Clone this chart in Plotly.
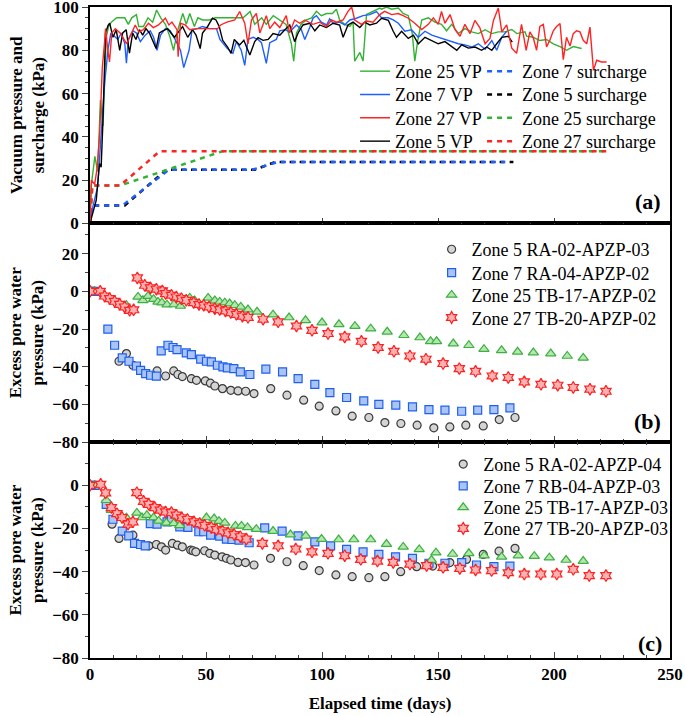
import plotly.graph_objects as go
from plotly.subplots import make_subplots

# ---- (a) vacuum pressure (kPa) vs elapsed time (days)
vp25_day = [0, 0.6, 2.1, 3.3, 4.5, 5.6, 7, 8, 9.2, 11.5, 13, 15, 16.5, 18, 20, 21, 23, 25, 27, 28.7,
            30.5, 32.5, 34.5, 36, 38, 40, 41.5, 43, 45, 46.5, 48.5, 51.5, 54, 58, 62, 64.5, 66, 69, 71, 74,
            76, 79, 82, 84.5, 86.8, 87.8, 89, 91, 93.3, 95.5, 97.6, 99.7, 102, 104.5, 106.2, 107.6, 109.8, 112, 113.4, 114.1,
            116.3, 117.7, 119.2, 122, 124.9, 125.7, 127.8, 130, 132.9, 135, 137.2, 138.9, 140, 141.2, 143, 145.8, 148.7, 151.5, 153.7, 155.9,
            158.8, 161.6, 164.5, 167.4, 170.3, 173.2, 176, 178.9, 181.8, 184, 187.5, 188.2, 191, 193.9, 196.8, 199.7, 202.6, 205.4, 208.3, 211.9]
vp25 = [0, 18, 31, 24, 57, 45, 86, 91, 93, 95, 95, 95, 92, 95, 96.5, 91, 91, 95, 93, 98.6,
        95, 92, 86, 80, 90, 97, 92, 97, 91, 95, 94, 94, 95, 95, 95, 95, 95, 97.9, 92, 95,
        92, 96, 94, 92, 83, 75, 88, 92, 94, 95, 98, 96, 97, 97, 99, 94, 92, 91, 93, 75,
        79, 75, 96.5, 98, 99.5, 99, 100, 99, 99.5, 97, 96, 87.7, 75, 84, 94, 95, 93, 92, 89, 92,
        87.7, 90, 88.5, 87.7, 89.5, 87.7, 88.5, 88.5, 89.6, 87.7, 88.5, 86.5, 86, 84.5, 85, 83, 81.7, 80, 81.7, 80.8]

vp7_day = [0, 1.3, 3.3, 5, 6.3, 7, 7.7, 9, 10.5, 12, 13.5, 15, 15.7, 16.5, 18.5, 20, 21.7, 23.8, 26, 27.4,
           28.9, 30.4, 32.5, 34.6, 36.7, 39, 40.4, 42.7, 44, 46.3, 48.5, 51.5, 54.5, 56, 59, 61.6, 63.1, 65.2, 66.7, 68.1,
           70.3, 72.4, 73.9, 76, 77.5, 80.3, 81.8, 84, 86.1, 89, 91.1, 92.6, 94.7, 96.1, 97.6, 99.7, 102, 103.3, 104.8, 107.6,
           109.8, 112, 114.8, 117.7, 120.6, 123.5, 125.7, 128.6, 130.7, 132.9, 135.7, 138.6, 141.5, 144.4, 147.3, 150.1, 153, 155.9, 158.8, 161.6,
           164.5, 167.4, 170.3, 173.2, 175.3, 177.5, 179.6]
vp7 = [0, 8, 17, 46, 65, 72, 80, 88, 86.5, 85, 88, 83, 74, 85, 89, 88, 84, 87, 89, 86,
       80, 87, 90, 89, 85, 80, 72, 80, 89.5, 90, 91, 90, 90, 85, 81, 78.6, 84, 80, 73, 85,
       86, 85, 83.5, 74, 83.5, 85, 89, 89.5, 88.5, 91.7, 89.5, 85, 90.5, 94.8, 96, 93, 91.7, 94.5, 92.5, 93,
       91.7, 94, 94.8, 96, 96.5, 97.9, 95, 95, 94, 92.5, 88.8, 89.5, 86, 88.8, 87, 86, 85, 83.8, 83, 82.5,
       81.5, 83, 80.5, 84.5, 80, 86, 88.8]

vp27_day = [0, 0.6, 2, 3, 4.1, 5.3, 6.3, 6.7, 7.7, 8.4, 9.4, 10.9, 13, 15.8, 17.3, 19.5, 21, 23, 25.2, 27.3,
            29.5, 32.5, 34, 35.3, 37.5, 38, 39, 41, 43, 46, 50, 55, 56.3, 59, 62.4, 64.5, 66.7, 68.1, 69.6, 71.7,
            73.2, 74.6, 76, 77.5, 79.6, 81.8, 84.6, 86, 88.2, 90.4, 92.6, 96.1, 99, 101.9, 104.1, 106.2, 109.1, 111.2, 112.8, 114.1,
            117, 119.2, 122, 124.9, 127, 130, 132.9, 135, 137.2, 140, 143, 145.8, 148, 150.1, 151.5, 153, 155.2, 157.3, 159.5, 161.6,
            163.8, 165.9, 168, 170.3, 172.4, 173.9, 176, 177.5, 179.6, 181.8, 183.9, 186, 188, 189.6, 191, 192.5, 193.9, 195.4, 196.8, 198.2,
            199.7, 201.1, 202.6, 204, 205.4, 206.9, 208.3, 209.7, 211.2, 212.6, 214.1, 215.5, 217, 218.4, 220.5, 222.7]
vp27 = [0, 20, 18, 25, 40, 72, 84, 90, 80, 74.6, 88, 90, 88, 83, 86.5, 91.7, 88.5, 89.5, 92.5, 90.5,
        91.7, 94.8, 91.7, 93, 89.5, 77, 92.5, 91.7, 89.5, 90, 90, 90, 91.7, 93, 94, 97.9, 92.5, 83, 94, 97,
        88, 92.5, 96, 90, 93, 90.5, 96, 88, 94, 92.5, 94, 92, 93, 91, 94, 93, 94, 98, 100, 94,
        92, 93.5, 93, 96.5, 98, 96.5, 97, 96, 94.8, 92.5, 89.6, 92, 95, 92, 97.9, 92.5, 96.5, 89.6, 86.5, 92,
        87.7, 93.8, 90.5, 83, 85.5, 93.8, 99.5, 88.5, 91.7, 81, 78.6, 92, 80, 88.5, 86, 80, 91, 92, 81.6, 84.6,
        89, 91, 92.3, 75.7, 86, 82, 87.7, 89, 88.5, 84.6, 83, 90.7, 70.7, 75.4, 74.6, 74.6]

vp5_day = [0, 2.7, 4.1, 4.8, 5.5, 6.3, 6.7, 7.8, 8.5, 9.9, 11.3, 12.8, 14.1, 15.6, 17, 18.4, 19.8, 21.3, 22.7, 24.1,
           25.6, 28.5, 29.9, 31.4, 33.5, 34.9, 36.4, 38.5, 39.9, 42.1, 44.2, 45.7, 47.5, 48.5, 50.7, 52.8, 54.3, 55.7, 57.2, 59.3,
           60.8, 62.2, 64.5, 66.3, 68.9, 71, 72.4, 74.6, 76.8, 78.9, 81.8, 84, 86.1, 88.2, 89.7, 91.8, 94.7, 96.9, 99, 101.9,
           104.8, 107.6, 109.1, 111.2, 113.4, 116.3, 118.4, 120.6, 123.5, 125.7, 128.6, 130.7, 132.1, 134.3, 137.2, 139.4, 141.5, 144.4, 147.3, 150.1,
           153, 155.9, 158.1, 160.2, 163.1, 166, 168.8, 171, 173.2, 175.3, 177.5, 180.3, 182]
vp5 = [0, 10.7, 27.7, 26, 45, 72, 88, 91.5, 92.5, 86, 89.5, 80, 88, 89.5, 78.7, 88, 85, 89.5, 87, 90,
       88, 80.8, 88, 89, 90, 88, 86, 89, 91, 86, 89.5, 87, 80.8, 88, 91, 94.8, 94, 91, 84.6, 81.5,
       78.6, 85, 82.5, 84.6, 77.8, 84, 85.8, 84.6, 85, 87.7, 87, 89.5, 91.7, 84, 88, 91.7, 92.5, 89, 91.7, 90.5,
       92.5, 91.7, 86, 91.7, 93, 90.5, 93, 91.7, 92.5, 94.8, 93.8, 88.8, 86, 88.8, 85.5, 87, 83, 86, 84.6, 83,
       84, 81.5, 80, 82.5, 81, 81.5, 80, 81.5, 80, 83, 86, 86.5, 83.8]

# surcharge (kPa)
sc7_day = [0, 1, 14, 34, 70, 81, 179]
sc7 = [0, 8.3, 8.3, 24.8, 24.8, 28.4, 28.4]
sc5_day = [0, 1, 15, 33, 71, 80, 182.5]
sc5 = [0, 8.3, 8.3, 24.8, 24.8, 28.4, 28.4]
sc25_day = [0, 1, 13, 30, 57, 222.5]
sc25 = [0, 17.5, 17.5, 23.5, 33.3, 33.3]
sc27_day = [0, 1, 13, 30, 222.5]
sc27 = [0, 17.5, 17.5, 33.3, 33.3]

# ---- (b) excess pore water pressure (kPa)
b5_day = [0, 2, 12.5, 15.7, 18.5, 28.9, 32.6, 36.1, 37.9, 39.8, 43.7, 45.9, 49.7, 51.9, 53.8, 57.1, 60.7, 63.8, 67.1, 70.7,
          77.9, 84.9, 92.1, 98.8, 106, 113, 120.2, 127.1, 134, 141, 148.2, 155.1, 162, 169.5, 176.4, 183.2]
b5 = [0, 0, -37.1, -33, -39.2, -42.2, -44.9, -42.2, -44.1, -45.2, -46.3, -47.2, -47.5, -48.7, -50.2, -51.6, -52.5, -52.8, -53, -54.2,
      -51.6, -55.1, -57.7, -60.9, -63.4, -66.2, -66.9, -69.6, -70.1, -71, -72.4, -71.9, -71, -71.4, -68, -66.9]
b7_day = [0, 2.1, 7.7, 10.6, 13.9, 16.8, 20, 21.8, 24, 26.1, 28.6, 30.7, 33.6, 35.8, 37.5, 41.5, 43.7, 47.7, 50.2, 52.3,
          54.9, 57.3, 59.2, 62, 64.8, 68.9, 75.8, 83, 89.7, 96.9, 103.4, 110.6, 118, 124.5, 131.8, 139, 146.1, 153, 160.2, 167.1,
          174.1, 181]
b7 = [0, 0, -20.1, -28.6, -35.3, -37.1, -39.6, -41.9, -43.6, -44.5, -45, -31.6, -28.6, -29.8, -30.9, -32.7, -33.6, -36, -37.1, -37.4,
      -39.2, -40.1, -40.6, -41, -42.7, -44.1, -41.3, -42.7, -46.3, -49.4, -53.7, -56.3, -58.1, -59.9, -60.4, -61.3, -62.7, -63, -63.6, -63,
      -62.7, -61.8]
b25_day = [0, 2, 15.7, 20.7, 22.8, 25, 27.4, 29.3, 31, 33.2, 36.2, 39, 43, 45.1, 50.9, 53.8, 55.9, 58.1, 60.2, 62.4,
           65, 68.1, 72, 78.9, 85.8, 92.9, 100, 107.3, 114.2, 121, 128.1, 135.3, 142.2, 146.8, 149.4, 156.6, 163.3, 169.8, 177.4, 184.3,
           191.1, 198.6, 205.7, 212.6]
b25 = [0, 0, -7.4, -3, -4.8, -2.6, -4.2, -5.6, -6, -7.1, -7, -7.8, -3.5, -4.9, -3.5, -4.9, -5.6, -6, -6.5, -7.4,
       -8.3, -9.7, -10.9, -12.4, -13.9, -15.4, -16.6, -17.5, -18.5, -19.8, -21.5, -23.3, -24.5, -26.5, -26.5, -27.7, -28.6, -30.7, -31.3, -32.1,
       -32.5, -33, -34.3, -35.3]
b27_day = [0, 4.4, 6.3, 8.5, 10.6, 12.8, 14.9, 17.1, 18.8, 20.4, 23.6, 26.1, 28.6, 31.2, 32.6, 35.1, 37.2, 39.4, 41.5, 44.7,
           47, 49, 51.3, 53.8, 55.9, 58.4, 60.7, 63.1, 65.7, 68.1, 74.6, 81.1, 89, 95.7, 102.6, 109.8, 117, 124.2, 131, 137.9,
           144.8, 152.2, 159.2, 166.2, 173.4, 180.3, 187.2, 194.4, 201.6, 208.3, 215.5, 222.4]
b27 = [0, 0, -2.5, -3.9, -5.3, -6.9, -8.3, -10.1, -9.8, 7.1, 3.2, 1.8, 1.1, 0.2, -1.2, -2.1, -3, -3.9, -4.8, -6,
       -7, -7.4, -8.3, -9.2, -9.7, -10.4, -11.3, -12.2, -13.2, -13.8, -14.8, -16.2, -18.4, -20.7, -22.4, -24.2, -26.5, -29.8, -31.8, -34.3,
       -36, -38.3, -41, -42.4, -44.9, -45.7, -48, -49.3, -49.8, -51, -51.9, -53]

# ---- (c) excess pore water pressure (kPa)
c5_day = [0, 2, 9.5, 12.5, 18.5, 25.4, 28.6, 30.8, 32.6, 35.5, 37.7, 39.8, 43.4, 44.4, 45.6, 49.4, 51.6, 53.8, 56.9, 58.8,
          60.7, 63.8, 67, 70.7, 77.8, 84.9, 91.9, 98.8, 106, 113, 120.2, 127.1, 133.9, 140.8, 147.7, 155.1, 162.3, 169.5, 176.3, 183.2]
c5 = [0, 0, -18, -24.6, -23.1, -28, -27.4, -28.5, -30, -26.9, -27.7, -28.5, -30, -30.3, -30.8, -30.3, -31.5, -32.3, -33.1, -33.8,
      -34.6, -35.7, -35.8, -36.9, -33.8, -35.4, -37.2, -39.5, -41.5, -42.3, -42.8, -42.3, -40, -37.7, -37.4, -35.8, -34.3, -32, -30.5, -29.2]
c7_day = [0, 2.1, 7, 9.9, 13.9, 16.7, 19.2, 21.8, 23.8, 26, 28.9, 33.2, 35.1, 38.7, 42.2, 46.9, 49, 52, 55.9, 58.8,
          61.2, 64.2, 68.6, 75.3, 82.8, 89.7, 96.9, 103.7, 110.6, 117.7, 124.5, 131.7, 139, 146.1, 153, 160.2, 166.6, 174.1, 181]
c7 = [0, 0, -8.8, -15.7, -21.2, -23.4, -26.9, -27.4, -28, -17.7, -18, -16.9, -15.8, -19.2, -19.5, -21.5, -21.5, -23.1, -23.5, -24.9,
      -25.1, -25.4, -26.6, -19.7, -21.2, -23.4, -26.2, -28, -29.7, -30.8, -32, -33.1, -33.8, -36.1, -36.1, -35.8, -36.9, -37.7, -37.4]
c25_day = [0, 2, 7, 9.2, 15.7, 20.2, 22.4, 24.5, 27.4, 29.6, 32.9, 36.1, 38.7, 50.2, 53.5, 55.6, 58.1, 62.7, 65.3, 67.9,
           71.7, 78.9, 86.4, 93, 99.8, 107.2, 113.7, 121, 127.8, 135, 141.9, 147.2, 149.1, 156.3, 163.3, 169.9, 177.4, 184.6, 191.5, 198,
           205.2, 212.6]
c25 = [0, 0, -6.9, -11.5, -15, -12.8, -14.9, -13.8, -14.9, -16.5, -17.4, -17.6, -18.5, -14.9, -15.4, -16.6, -17.4, -18.8, -18.8, -19.5,
       -20.3, -21.2, -22.8, -23.4, -24.9, -25.1, -25.1, -25.1, -27.2, -28.5, -29.7, -34.6, -31.2, -31.8, -31.5, -32.6, -33.1, -32.6, -32.8, -33.5,
       -34.6, -35.1]
c27_day = [0, 4.6, 6.7, 9.2, 11.6, 13.8, 16.4, 18.5, 20.2, 23.1, 25.3, 27.9, 30.3, 32.6, 35.1, 37.2, 39.6, 42, 44.8, 47.3,
           49.4, 52.3, 54.5, 57.1, 59.5, 62.1, 64.8, 67.4, 74.3, 81.1, 88.7, 95.7, 102.6, 109.8, 116.7, 123.9, 130.7, 137.9, 145.1, 152.2,
           159.4, 166.2, 173.1, 180.3, 187.2, 194.3, 201.2, 208.3, 215.2, 222.4]
c27 = [0, 0.5, -3.5, -10.3, -13.1, -14.9, -18, -16.9, -3.4, -7.4, -8.8, -10.3, -11.5, -12.3, -12.6, -13.8, -15.1, -15.8, -16.9, -17.7,
       -18.5, -19.5, -20.5, -21.1, -22, -22.8, -23.8, -24.9, -26.9, -28, -29.5, -30.8, -31.5, -32.6, -34.3, -35.1, -35.7, -36.5, -37.2, -38,
       -38.5, -39.2, -39.5, -40.5, -41.1, -41.1, -41.1, -38.9, -41.8, -41.8]

FONT = "Liberation Serif, Times New Roman, serif"
GREEN, BLUE, RED, BLACK = "#33b233", "#1f5fff", "#ff2424", "#000000"

fig = make_subplots(rows=3, cols=1, shared_xaxes=True, vertical_spacing=0,
                    row_heights=[0.3324, 0.3361, 0.3315])

# one small legend per entry so the rows sit where the original has them
legend_layout = {}
def legend_slot(x, y):
    key = "legend" if not legend_layout else "legend%d" % (len(legend_layout) + 1)
    legend_layout[key] = dict(x=x, y=y, xanchor="left", yanchor="top", bgcolor="rgba(0,0,0,0)",
                              borderwidth=0, itemwidth=30,
                              font=dict(family=FONT, size=18, color="black"))
    return key

row_a = [0.9294, 0.8936, 0.8578, 0.8219]
row_b = [0.6558, 0.6200, 0.5857, 0.5510]
row_c = [0.3258, 0.2925, 0.2594, 0.2271]

# surcharge lines (dashed), legend column 2
for d, v, name, col, i in [(sc5_day, sc5, "Zone 5 surcharge", BLACK, 1),
                           (sc7_day, sc7, "Zone 7 surcharge", BLUE, 0),
                           (sc25_day, sc25, "Zone 25 surcharge", GREEN, 2),
                           (sc27_day, sc27, "Zone 27 surcharge", RED, 3)]:
    fig.add_trace(go.Scatter(x=d, y=v, mode="lines", name=name, legend=legend_slot(0.676, row_a[i]),
                             line=dict(color=col, width=2.5, dash="5px,5px")), row=1, col=1)

# vacuum pressure lines, legend column 1
for d, v, name, col, i in [(vp25_day, vp25, "Zone 25 VP", GREEN, 0),
                           (vp7_day, vp7, "Zone 7 VP", BLUE, 1),
                           (vp5_day, vp5, "Zone 5 VP", BLACK, 3),
                           (vp27_day, vp27, "Zone 27 VP", RED, 2)]:
    fig.add_trace(go.Scatter(x=d, y=v, mode="lines", name=name, legend=legend_slot(0.457, row_a[i]),
                             line=dict(color=col, width=1.4)), row=1, col=1)

styles = [("circle", "#d4d4d4", "#3a3a3a", 8),
          ("square", "#aac4f6", "#1f5fef", 8),
          ("triangle-up", "#b6e6ae", "#3cb043", 9),
          ("hexagram", "#ffb0b0", "#ff2020", 9)]

panel_b = [(b5_day, b5, "Zone 5 RA-02-APZP-03"), (b7_day, b7, "Zone 7 RA-04-APZP-02"),
           (b25_day, b25, "Zone 25 TB-17-APZP-02"), (b27_day, b27, "Zone 27 TB-20-APZP-02")]
panel_c = [(c5_day, c5, "Zone 5 RA-02-APZP-04"), (c7_day, c7, "Zone 7 RB-04-APZP-03"),
           (c25_day, c25, "Zone 25 TB-17-APZP-03"), (c27_day, c27, "Zone 27 TB-20-APZP-03")]

for row, panel, lx, ly in [(2, panel_b, 0.589, row_b), (3, panel_c, 0.609, row_c)]:
    for i, ((d, v, name), (sym, fill, edge, sz)) in enumerate(zip(panel, styles)):
        fig.add_trace(go.Scatter(x=d, y=v, mode="markers", name=name, legend=legend_slot(lx, ly[i]),
                                 marker=dict(symbol=sym, size=sz, color=fill,
                                             line=dict(color=edge, width=1.2))), row=row, col=1)

tickfont = dict(family=FONT, size=17, color="black", weight="bold")
titlefont = dict(family=FONT, size=17, color="black")

for r in (1, 2, 3):
    fig.update_xaxes(range=[0, 250], dtick=50, tick0=0, ticks="inside", ticklen=6, tickwidth=1.2,
                     minor=dict(dtick=10, ticks="inside", ticklen=3, tickwidth=1),
                     showline=True, linecolor="black", linewidth=1.5, automargin=False,
                     mirror="ticks" if r == 3 else True, showgrid=False, zeroline=False,
                     tickfont=tickfont, ticklabeloverflow="allow", row=r, col=1)

fig.update_xaxes(title=dict(text="<b>Elapsed time (days)</b>", font=dict(family=FONT, size=17, color="black"),
                            standoff=14), row=3, col=1)

yt = dict(ticks="outside", ticklen=6, tickwidth=1.2, showline=True, linecolor="black", linewidth=1.5,
          mirror=True, showgrid=False, zeroline=False, tickfont=tickfont, automargin=False,
          ticklabeloverflow="allow")
fig.update_yaxes(range=[0, 100], tickvals=[0, 20, 40, 60, 80, 100],
                 minor=dict(tickmode="linear", tick0=0, dtick=5, ticks="outside", ticklen=3),
                 title=dict(text="<b>Vacuum pressure and<br>surcharge (kPa)</b>", font=titlefont, standoff=4),
                 row=1, col=1, **yt)
fig.update_yaxes(range=[-80, 36], tickvals=[-80, -60, -40, -20, 0, 20],
                 minor=dict(tickmode="linear", tick0=0, dtick=10, ticks="outside", ticklen=3),
                 title=dict(text="<b>Excess pore water<br>pressure (kPa)</b>", font=titlefont, standoff=4),
                 row=2, col=1, **yt)
fig.update_yaxes(range=[-80, 20], tickvals=[-80, -60, -40, -20, 0],
                 minor=dict(tickmode="linear", tick0=0, dtick=10, ticks="outside", ticklen=3),
                 title=dict(text="<b>Excess pore water<br>pressure (kPa)</b>", font=titlefont, standoff=4),
                 row=3, col=1, **yt)

fig.update_layout(showlegend=True, **legend_layout)

for txt, x, y in [("(a)", 0.962, 0.7007), ("(b)", 0.962, 0.3631), ("(c)", 0.9655, 0.023)]:
    fig.add_annotation(text="<b>%s</b>" % txt, x=x, y=y, xref="paper", yref="paper",
                       xanchor="center", yanchor="middle", showarrow=False,
                       font=dict(family=FONT, size=22, color="black"))

fig.update_layout(width=685, height=716, margin=dict(l=90, r=15, t=7, b=58, autoexpand=False),
                  plot_bgcolor="white", paper_bgcolor="white", font=dict(family=FONT))

fig.write_html("out.html", config={"displayModeBar": False},
               post_script="document.body.style.margin='0';")
